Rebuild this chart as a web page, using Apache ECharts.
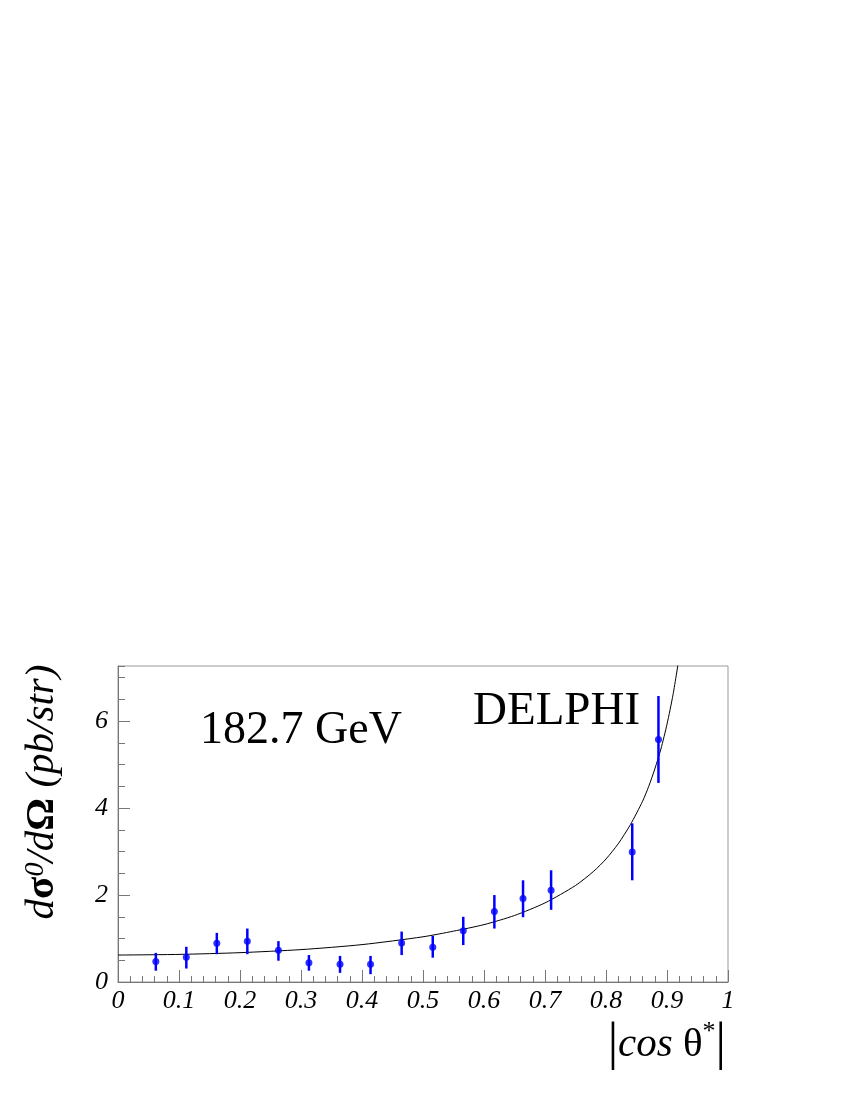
<!DOCTYPE html>
<html lang="en">
<head>
    <meta charset="UTF-8">
    <title>DELPHI 182.7 GeV</title>
    <script src="https://cdn.jsdelivr.net/npm/echarts@6/dist/echarts.min.js"></script>
    <style>
        html, body { margin: 0; padding: 0; background: #fff; }
        #chart { width: 850px; height: 1100px; }
    </style>
</head>
<body>
<div id="chart"></div>
<script>
    // measured points (|cos theta*|, d sigma / d Omega) and error bar ends
    var cosTheta = [0.062, 0.112, 0.162, 0.212, 0.263, 0.313, 0.364, 0.414, 0.465, 0.516, 0.566, 0.617, 0.664, 0.710, 0.843, 0.886];
    var sigma    = [0.47, 0.57, 0.89, 0.94, 0.73, 0.44, 0.41, 0.41, 0.90, 0.80, 1.18, 1.62, 1.92, 2.11, 2.99, 5.58];
    var errLow   = [0.26, 0.31, 0.64, 0.64, 0.49, 0.26, 0.21, 0.18, 0.62, 0.56, 0.85, 1.23, 1.49, 1.66, 2.34, 4.58];
    var errHigh  = [0.67, 0.81, 1.13, 1.23, 0.94, 0.62, 0.60, 0.60, 1.16, 1.06, 1.50, 2.00, 2.34, 2.57, 3.65, 6.58];

    // QED curve
    var curveX = [0, 0.1, 0.2, 0.3, 0.4, 0.5, 0.55, 0.6, 0.65, 0.7, 0.75, 0.78, 0.8, 0.82, 0.84, 0.86, 0.87, 0.88, 0.89, 0.9, 0.91, 0.92];
    var curveY = [0.62, 0.635, 0.675, 0.745, 0.86, 1.04, 1.17, 1.32, 1.53, 1.82, 2.22, 2.55, 2.83, 3.18, 3.62, 4.16, 4.5, 4.9, 5.36, 5.93, 6.62, 7.48];

    var xTicks = ['0', '0.1', '0.2', '0.3', '0.4', '0.5', '0.6', '0.7', '0.8', '0.9', '1'];
    var yTicks = ['0', '2', '4', '6'];

    var serif = 'Liberation Serif';

    var points = [], bars = [], curve = [];
    for (var i = 0; i < cosTheta.length; i++) {
        points.push([cosTheta[i], sigma[i]]);
        bars.push([cosTheta[i], errLow[i], errHigh[i]]);
    }
    for (var j = 0; j < curveX.length; j++) {
        curve.push([curveX[j], curveY[j]]);
    }

    var myChart = echarts.init(document.getElementById('chart'));

    var option = {
        animation: false,
        backgroundColor: '#fff',
        grid: {
            left: 118, right: 122, top: 666, bottom: 118,
            show: true, borderColor: '#999', borderWidth: 1
        },
        xAxis: {
            type: 'value', min: 0, max: 1, interval: 0.1,
            axisLine: { lineStyle: { color: '#777' } },
            axisTick: { inside: true, length: 12, lineStyle: { color: '#777' } },
            minorTick: { show: true, splitNumber: 5, length: 6, lineStyle: { color: '#777' } },
            splitLine: { show: false },
            axisLabel: {
                margin: 6,
                fontFamily: serif, fontStyle: 'italic', fontSize: 26, color: '#000',
                formatter: function (v) {
                    var k = Math.round(v * 10);
                    return xTicks[k] !== undefined ? xTicks[k] : '';
                }
            }
        },
        yAxis: [
            {
                type: 'value', min: 0, max: 7.27, interval: 2,
                axisLine: { show: true, lineStyle: { color: '#777' } },
                axisTick: { inside: true, length: 12, lineStyle: { color: '#777' } },
                splitLine: { show: false },
                axisLabel: {
                    margin: 10, showMaxLabel: false,
                    fontFamily: serif, fontStyle: 'italic', fontSize: 26, color: '#000',
                    formatter: function (v) {
                        var k = Math.round(v / 2);
                        return (Math.abs(v - k * 2) < 1e-6 && yTicks[k]) ? yTicks[k] : '';
                    }
                }
            },
            {
                // minor ticks every 0.5
                type: 'value', min: 0, max: 7.27, interval: 0.5, position: 'left',
                axisLine: { show: false },
                axisTick: { inside: true, length: 7, lineStyle: { color: '#777' } },
                axisLabel: { show: false },
                splitLine: { show: false }
            }
        ],
        graphic: [
            {
                type: 'text', left: 200, top: 708,
                style: { text: '182.7 GeV', fontFamily: serif, fontSize: 46, fill: '#000' }
            },
            {
                type: 'text', left: 473, top: 688,
                style: { text: 'DELPHI', fontFamily: serif, fontSize: 47, fill: '#000' }
            },
            {
                type: 'text', x: 42, y: 792, rotation: Math.PI / 2,
                style: {
                    text: '{i|d}{b|σ}{s|0}{i|/d}{b|Ω}{i| (pb/str)}',
                    align: 'center', verticalAlign: 'middle', fill: '#000',
                    rich: {
                        i: { fontFamily: serif, fontStyle: 'italic', fontSize: 41 },
                        b: { fontFamily: serif, fontWeight: 'bold', fontSize: 41 },
                        s: { fontFamily: serif, fontStyle: 'italic', fontSize: 28, verticalAlign: 'top' }
                    }
                }
            },
            {
                type: 'text', x: 726, y: 1045,
                style: {
                    text: '{bar||}{i|cos }{u|θ}{s|*}{bar||}',
                    align: 'right', verticalAlign: 'middle', fill: '#000',
                    rich: {
                        bar: { fontFamily: serif, fontSize: 52 },
                        i: { fontFamily: serif, fontStyle: 'italic', fontSize: 41 },
                        u: { fontFamily: serif, fontSize: 41 },
                        s: { fontFamily: serif, fontSize: 26, verticalAlign: 'top' }
                    }
                }
            }
        ],
        series: [
            {
                name: 'curve',
                type: 'line',
                data: curve,
                smooth: 0.25,
                showSymbol: false,
                clip: true,
                lineStyle: { color: '#000', width: 1 },
                z: 2
            },
            {
                name: 'errors',
                type: 'custom',
                data: bars,
                renderItem: function (params, api) {
                    var lo = api.coord([api.value(0), api.value(1)]);
                    var hi = api.coord([api.value(0), api.value(2)]);
                    return {
                        type: 'line',
                        shape: { x1: lo[0], y1: lo[1], x2: hi[0], y2: hi[1] },
                        style: { stroke: '#0000ff', lineWidth: 2.5 }
                    };
                },
                z: 3
            },
            {
                name: 'data',
                type: 'scatter',
                data: points,
                symbol: 'circle',
                symbolSize: 7,
                itemStyle: { color: '#0000ff' },
                z: 4
            }
        ]
    };
    myChart.setOption(option);
</script>
</body>
</html>
